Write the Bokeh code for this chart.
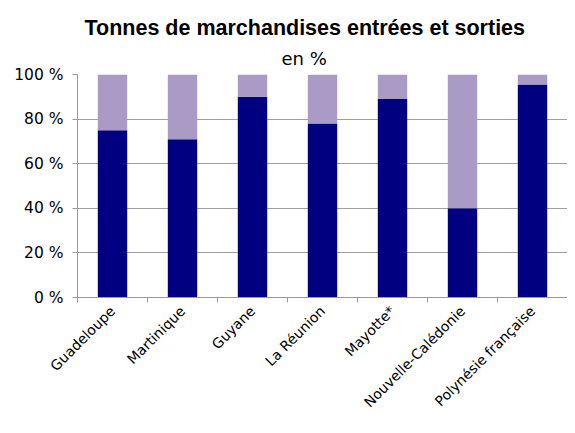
from math import pi
from bokeh.plotting import figure
from bokeh.models import (Range1d, LinearAxis, FixedTicker, Title,
                          Legend, LegendItem, ColumnDataSource)
from bokeh.embed import file_html
from bokeh.resources import INLINE

categories = ["Guadeloupe", "Martinique", "Guyane", "La Réunion", "Mayotte*",
              "Nouvelle-Calédonie", "Polynésie française"]
entrees = [75, 71, 90, 78, 89, 40, 95.5]
sorties = [25, 29, 10, 22, 11, 60, 4.5]
series = ["entrées", "sorties"]
colors = ["#000080", "#A99BC5"]
y_ticks = [0, 20, 40, 60, 80, 100]
y_tick_labels = ["0 %", "20 %", "40 %", "60 %", "80 %", "100 %"]
title_text = "Tonnes de marchandises entrées et sorties"
subtitle_text = "en %"

FONT = "DejaVu Sans"
LEFT, TOP = 77, 74

n = len(categories)
centers = [i + 0.5 for i in range(n)]
source = ColumnDataSource(dict(x=centers, cat=categories, **{"entrées": entrees, "sorties": sorties}))

p = figure(frame_width=490, frame_height=223, output_backend="svg", toolbar_location=None,
           x_range=Range1d(0, n), y_range=Range1d(0, 100),
           x_axis_location=None, y_axis_location=None,
           min_border_left=LEFT, min_border_right=0, min_border_top=TOP, min_border_bottom=0)
p.outline_line_color = None

renderers = p.vbar_stack(series, x="x", width=0.42, color=colors, source=source, line_color=None)

# titles
p.title.text = title_text
p.title.text_font = "Liberation Sans"
p.title.text_font_style = "bold"
p.title.text_font_size = "21.5px"
p.title.text_color = "#000000"
p.title.align = "left"
p.title.offset = 84 - LEFT
p.title.standoff = 0
sub = Title(text=subtitle_text, align="left", offset=281 - LEFT, text_font=FONT,
            text_font_size="18px", text_font_style="normal", text_color="#000000", standoff=12)
p.add_layout(sub, "above")

# y axis
yaxis = LinearAxis(ticker=FixedTicker(ticks=y_ticks, minor_ticks=[]))
yaxis.major_label_overrides = {t: l for t, l in zip(y_ticks, y_tick_labels)}
yaxis.major_label_text_font = FONT
yaxis.major_label_text_font_size = "15.5px"
yaxis.major_label_text_color = "#000000"
yaxis.axis_line_color = "#999999"
yaxis.major_tick_line_color = "#999999"
yaxis.major_tick_out = 5
yaxis.major_tick_in = 0
yaxis.minor_tick_line_color = None
yaxis.major_label_standoff = 9
p.add_layout(yaxis, "left")

# x axis: labels at category centres, ticks at category boundaries
xaxis = LinearAxis(ticker=FixedTicker(ticks=centers, minor_ticks=list(range(n + 1))))
xaxis.major_label_overrides = {c: lab for c, lab in zip(centers, categories)}
xaxis.axis_line_color = "#999999"
xaxis.major_tick_line_color = None
xaxis.major_tick_out = 0
xaxis.major_tick_in = 0
xaxis.minor_tick_line_color = "#999999"
xaxis.minor_tick_out = 5
xaxis.minor_tick_in = 0
xaxis.major_label_orientation = pi / 4
xaxis.major_label_text_font = FONT
xaxis.major_label_text_font_size = "14px"
xaxis.major_label_text_color = "#000000"
xaxis.major_label_standoff = 6
p.add_layout(xaxis, "below")

p.xgrid.grid_line_color = None
p.ygrid.ticker = FixedTicker(ticks=y_ticks)
p.ygrid.grid_line_color = "#A0A0A0"

legend = Legend(items=[LegendItem(label=s, renderers=[r]) for s, r in zip(series, renderers)],
                orientation="horizontal", location="center",
                label_text_font=FONT, label_text_font_size="15px",
                glyph_width=10, glyph_height=10, spacing=6, label_standoff=3,
                label_height=14, padding=0, margin=0, border_line_color=None,
                background_fill_alpha=0)
p.add_layout(legend, "below")

open("out.html", "w").write(file_html(p, INLINE))
